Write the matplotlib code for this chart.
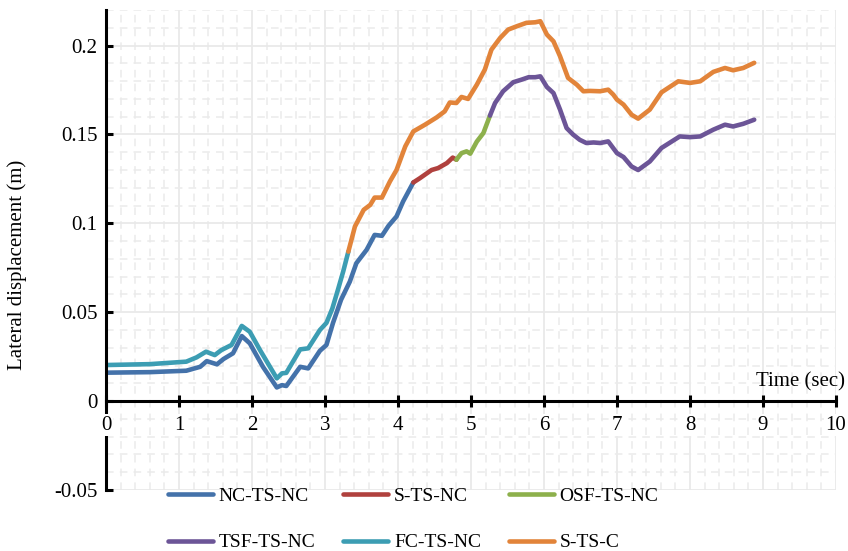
import matplotlib
matplotlib.use('Agg')
import matplotlib.pyplot as plt
from matplotlib.ticker import MultipleLocator, FixedLocator, FixedFormatter

plt.rcParams['font.family'] = 'Liberation Serif'

# values (time in sec, displacement in m)
nc_t = [0, 0.6, 1.1, 1.29, 1.38, 1.52, 1.61, 1.74, 1.86, 1.97, 2.15, 2.34, 2.41, 2.47,
        2.66, 2.77, 2.93, 3.02, 3.11, 3.22, 3.34, 3.43, 3.57, 3.68, 3.78, 3.87, 3.98, 4.07, 4.21]
nc_v = [0.016, 0.0163, 0.0171, 0.0193, 0.0225, 0.0207, 0.0237, 0.0269, 0.0366, 0.0325, 0.0193,
        0.0077, 0.009, 0.0085, 0.0193, 0.0184, 0.0283, 0.0316, 0.044, 0.057, 0.0672, 0.0776,
        0.0851, 0.0935, 0.093, 0.0986, 0.1039, 0.1123, 0.123]

s_t = [4.21, 4.30, 4.46, 4.55, 4.67, 4.75, 4.80]
s_v = [0.123, 0.1254, 0.130, 0.1311, 0.1339, 0.137, 0.1358]

osf_t = [4.80, 4.87, 4.94, 4.99, 5.08, 5.17, 5.26]
osf_v = [0.1358, 0.1395, 0.1405, 0.1392, 0.146, 0.1508, 0.1606]

tsf_t = [5.26, 5.33, 5.44, 5.58, 5.69, 5.79, 5.88, 5.95, 6.04, 6.13, 6.22, 6.31, 6.40, 6.49,
         6.58, 6.68, 6.77, 6.88, 7.0, 7.09, 7.20, 7.29, 7.45, 7.61, 7.86, 8.0, 8.14, 8.32,
         8.48, 8.59, 8.73, 8.88]
tsf_v = [0.1606, 0.1677, 0.1743, 0.1794, 0.1808, 0.1822, 0.1822, 0.1827, 0.1767, 0.1733,
         0.164, 0.1536, 0.1499, 0.147, 0.1452, 0.1455, 0.1452, 0.1461, 0.1395, 0.1373, 0.132,
         0.130, 0.1348, 0.1424, 0.1489, 0.1485, 0.1489, 0.1527, 0.1555, 0.1545, 0.156, 0.1583]

fc_t = [0, 0.6, 1.1, 1.24, 1.37, 1.49, 1.58, 1.72, 1.86, 1.97, 2.11, 2.34, 2.41, 2.47, 2.66,
        2.77, 2.93, 3.02, 3.1, 3.18, 3.25, 3.32]
fc_v = [0.0203, 0.0208, 0.0222, 0.0246, 0.0278, 0.0259, 0.0287, 0.0316, 0.0423, 0.039,
        0.0287, 0.0128, 0.0156, 0.0159, 0.0291, 0.0297, 0.040, 0.044, 0.052, 0.063, 0.073, 0.0841]

stc_t = [3.32, 3.41, 3.53, 3.62, 3.68, 3.78, 3.89, 3.98, 4.10, 4.21, 4.37, 4.53, 4.64, 4.71,
         4.80, 4.87, 4.96, 5.08, 5.19, 5.28, 5.40, 5.51, 5.63, 5.76, 5.88, 5.95, 6.04, 6.13,
         6.22, 6.33, 6.45, 6.54, 6.63, 6.77, 6.88, 6.95, 7.0, 7.09, 7.20, 7.29, 7.45, 7.61,
         7.84, 8.0, 8.14, 8.32, 8.48, 8.59, 8.73, 8.88]
stc_v = [0.0841, 0.0982, 0.1076, 0.1104, 0.1145, 0.1145, 0.1236, 0.130, 0.1433, 0.1517,
         0.1555, 0.1596, 0.163, 0.168, 0.1677, 0.1711, 0.170, 0.178, 0.1865, 0.1977, 0.2043,
         0.209, 0.2109, 0.2128, 0.2131, 0.2137, 0.2062, 0.2024, 0.194, 0.1818, 0.178, 0.1743,
         0.1745, 0.1743, 0.1752, 0.1724, 0.1696, 0.1668, 0.1611, 0.1589, 0.164, 0.1737,
         0.1799, 0.179, 0.1799, 0.1852, 0.1874, 0.1861, 0.1874, 0.1903]

x_ticks = [0, 1, 2, 3, 4, 5, 6, 7, 8, 9, 10]
y_ticks = [-0.05, 0, 0.05, 0.1, 0.15, 0.2]
y_tick_labels = ['-0.05', '0', '0.05', '0.1', '0.15', '0.2']

fig = plt.figure(figsize=(8.48, 5.51), dpi=100)
rect = [0.125, 0.1107, 0.8608, 0.8711]

# grid lives on its own axes underneath, so tick labels can mask it
gax = fig.add_axes(rect, zorder=0)
gax.set_xlim(0, 10)
gax.set_ylim(-0.05, 0.22)
gax.xaxis.set_major_locator(MultipleLocator(1))
gax.xaxis.set_minor_locator(MultipleLocator(0.2))
gax.yaxis.set_major_locator(MultipleLocator(0.05))
gax.yaxis.set_minor_locator(MultipleLocator(0.01))
gax.grid(which='major', color='#e9e9e9', lw=1.3)
gax.grid(which='minor', color='#ebebeb', lw=1.1, ls=(0, (5, 4)))
gax.tick_params(which='both', length=0, labelbottom=False, labelleft=False)
for s in gax.spines.values():
    s.set_visible(False)

ax = fig.add_axes(rect, zorder=1)
ax.patch.set_visible(False)
ax.set_axisbelow(False)

lw = 3.3
ax.plot(nc_t, nc_v, color='#4472aa', lw=lw, label='NC-TS-NC', solid_capstyle='round', zorder=2)
ax.plot(fc_t, fc_v, color='#3c9db3', lw=lw, label='FC-TS-NC', solid_capstyle='round', zorder=2)
ax.plot(s_t, s_v, color='#b0413e', lw=lw, label='S-TS-NC', solid_capstyle='round', zorder=2)
ax.plot(osf_t, osf_v, color='#8db04c', lw=lw, label='OSF-TS-NC', solid_capstyle='round', zorder=2)
ax.plot(tsf_t, tsf_v, color='#6c5597', lw=lw, label='TSF-TS-NC', solid_capstyle='round', zorder=2)
ax.plot(stc_t, stc_v, color='#e2843a', lw=lw, label='S-TS-C', solid_capstyle='round', zorder=2)

ax.set_xlim(0, 10)
ax.set_ylim(-0.05, 0.22)
ax.spines['top'].set_visible(False)
ax.spines['right'].set_visible(False)
ax.spines['bottom'].set_position(('data', 0))
ax.spines['bottom'].set_linewidth(2.2)
ax.spines['left'].set_linewidth(2.2)

ax.xaxis.set_major_locator(FixedLocator(x_ticks))
ax.yaxis.set_major_locator(FixedLocator(y_ticks))
ax.yaxis.set_major_formatter(FixedFormatter(y_tick_labels))
ax.tick_params(axis='x', direction='inout', length=9, width=2.2, pad=6, labelsize=15)
ax.tick_params(axis='y', direction='in', length=5, width=2.2, pad=6, labelsize=15)
for lab in ax.get_xticklabels():
    lab.set_bbox(dict(facecolor='white', edgecolor='none', pad=1))

ax.set_ylabel('Lateral displacement (m)', fontsize=15)
ax.yaxis.set_label_coords(-0.108, 0.469)
ax.text(10.12, 0.008, 'Time (sec)', ha='right', va='baseline', fontsize=15)

# legend filled row by row
h, l = ax.get_legend_handles_labels()
order = ['NC-TS-NC', 'TSF-TS-NC', 'S-TS-NC', 'FC-TS-NC', 'OSF-TS-NC', 'S-TS-C']
hd = dict(zip(l, h))
fig.legend([hd[k] for k in order], order, ncol=3, loc='upper left',
           bbox_to_anchor=(0.198, 0.116), frameon=False, fontsize=14,
           handlelength=2.3, handletextpad=0.3, columnspacing=1.45,
           labelspacing=1.5, borderpad=0, borderaxespad=0)

fig.savefig('out.png', dpi=100)
